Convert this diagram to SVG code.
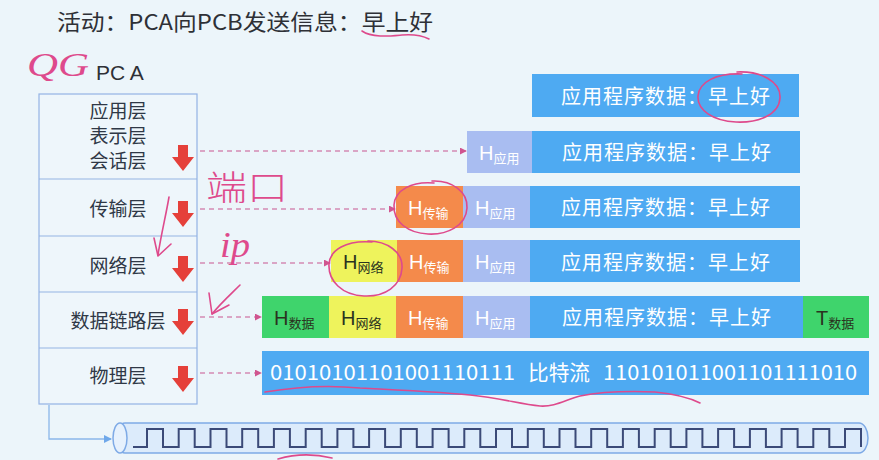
<svg xmlns="http://www.w3.org/2000/svg" width="879" height="460" viewBox="0 0 879 460">
  <defs>
    <style>
      .cjk{font-family:"Noto Sans CJK SC","Noto Sans",sans-serif}
      .title{font-size:22px;fill:#2e3036}
      .layer-box{fill:#eef6fb;stroke:#93b3e4;stroke-width:1.2}
      .layer-line{stroke:#93b3e4;stroke-width:1.2}
      .layer-text{font-size:19px;fill:#2f3846;text-anchor:middle}
      .down{fill:#e5403a}
      .dash{stroke:#d48bb4;stroke-width:1.3;stroke-dasharray:5 4;fill:none;marker-end:url(#tip)}
      .data{fill:#4eaaf2}
      .happ{fill:#a9bdf1}
      .htrn{fill:#f48a4b}
      .hnet{fill:#eef35c}
      .hlnk{fill:#3fd46c}
      .dtext{font-size:20px;fill:#fff;text-anchor:middle;letter-spacing:1px}
      .hl{font-family:"Liberation Sans",Arial,sans-serif;font-size:20px}
      .sub{font-family:"Noto Sans CJK SC",sans-serif;font-size:13px}
      .bits{font-family:"Noto Sans CJK SC","Noto Sans",sans-serif;font-size:21px;fill:#fff}
      .light{fill:#ffffff}
      .dark{fill:#2a3320}
      .ink{fill:none;stroke:#de4a8c;stroke-width:1.6;stroke-linecap:round;stroke-linejoin:round}
      .inktext{fill:#de4a8c}
    </style>
    <marker id="tip" viewBox="0 0 8 8" refX="7" refY="4" markerWidth="7" markerHeight="7" markerUnits="userSpaceOnUse" orient="auto">
      <path d="M0,0 L8,4 L0,8 z" fill="#d0558f"/>
    </marker>
    <marker id="tipBlue" viewBox="0 0 8 8" refX="7" refY="4" markerWidth="8" markerHeight="8" markerUnits="userSpaceOnUse" orient="auto">
      <path d="M0,0 L8,4 L0,8 z" fill="#6fa8ea"/>
    </marker>
  </defs>

  <!-- page background -->
  <rect width="879" height="460" fill="#ecf5fa"/>

  <!-- heading -->
  <g id="title">
    <text class="cjk title" x="57" y="30" textLength="376" lengthAdjust="spacingAndGlyphs">活动：PCA向PCB发送信息：早上好</text>
  </g>
  <g id="label-pca">
    <text x="96" y="80" font-family="Liberation Sans, Arial, sans-serif" font-size="21" fill="#2e3036">PC A</text>
  </g>

  <!-- protocol stack of the sending host -->
  <g id="stack">
    <rect class="layer-box" x="39" y="94" width="158" height="310"/>
    <g id="layer-app">
      <text class="cjk layer-text" x="118" y="118">应用层</text>
      <text class="cjk layer-text" x="118" y="143">表示层</text>
      <text class="cjk layer-text" x="118" y="168">会话层</text>
      <path class="down" d="M178,145 h10 v12 h6 l-11,14 l-11,-14 h6 z"/>
    </g>
    <line class="layer-line" x1="39" y1="179" x2="197" y2="179"/>
    <g id="layer-transport">
      <text class="cjk layer-text" x="118" y="216">传输层</text>
      <path class="down" d="M178,201 h10 v12 h6 l-11,14 l-11,-14 h6 z"/>
    </g>
    <line class="layer-line" x1="39" y1="236" x2="197" y2="236"/>
    <g id="layer-network">
      <text class="cjk layer-text" x="118" y="273">网络层</text>
      <path class="down" d="M178,256 h10 v12 h6 l-11,14 l-11,-14 h6 z"/>
    </g>
    <line class="layer-line" x1="39" y1="292" x2="197" y2="292"/>
    <g id="layer-link">
      <text class="cjk layer-text" x="118" y="328">数据链路层</text>
      <path class="down" d="M178,309 h10 v12 h6 l-11,14 l-11,-14 h6 z"/>
    </g>
    <line class="layer-line" x1="39" y1="348" x2="197" y2="348"/>
    <g id="layer-physical">
      <text class="cjk layer-text" x="118" y="383">物理层</text>
      <path class="down" d="M178,366 h10 v12 h6 l-11,14 l-11,-14 h6 z"/>
    </g>
  </g>

  <!-- encapsulated units, one row per layer -->
  <g id="pdu-app">
    <rect class="data" x="532" y="74" width="267" height="43"/>
    <text class="cjk dtext" x="666" y="104">应用程序数据：早上好</text>
  </g>
  <g id="pdu-session">
    <rect class="happ" x="467" y="131" width="65" height="42"/>
    <text class="hl light" x="479" y="160">H<tspan class="sub" dy="3">应用</tspan></text>
    <rect class="data" x="532" y="131" width="268" height="42"/>
    <text class="cjk dtext" x="667" y="160">应用程序数据：早上好</text>
  </g>
  <g id="pdu-segment">
    <rect class="htrn" x="396" y="186" width="67" height="42"/>
    <text class="hl light" x="408" y="215">H<tspan class="sub" dy="3">传输</tspan></text>
    <rect class="happ" x="463" y="186" width="67" height="42"/>
    <text class="hl light" x="475" y="215">H<tspan class="sub" dy="3">应用</tspan></text>
    <rect class="data" x="530" y="186" width="270" height="42"/>
    <text class="cjk dtext" x="666" y="215">应用程序数据：早上好</text>
  </g>
  <g id="pdu-packet">
    <rect class="hnet" x="331" y="240" width="66" height="42"/>
    <text class="hl dark" x="343" y="269">H<tspan class="sub" dy="3">网络</tspan></text>
    <rect class="htrn" x="397" y="240" width="66" height="42"/>
    <text class="hl light" x="409" y="269">H<tspan class="sub" dy="3">传输</tspan></text>
    <rect class="happ" x="463" y="240" width="67" height="42"/>
    <text class="hl light" x="475" y="269">H<tspan class="sub" dy="3">应用</tspan></text>
    <rect class="data" x="530" y="240" width="270" height="42"/>
    <text class="cjk dtext" x="666" y="270">应用程序数据：早上好</text>
  </g>
  <g id="pdu-frame">
    <rect class="hlnk" x="262" y="296" width="67" height="42"/>
    <text class="hl dark" x="274" y="325">H<tspan class="sub" dy="3">数据</tspan></text>
    <rect class="hnet" x="329" y="296" width="67" height="42"/>
    <text class="hl dark" x="341" y="325">H<tspan class="sub" dy="3">网络</tspan></text>
    <rect class="htrn" x="396" y="296" width="67" height="42"/>
    <text class="hl light" x="408" y="325">H<tspan class="sub" dy="3">传输</tspan></text>
    <rect class="happ" x="463" y="296" width="67" height="42"/>
    <text class="hl light" x="475" y="325">H<tspan class="sub" dy="3">应用</tspan></text>
    <rect class="data" x="530" y="296" width="273" height="42"/>
    <text class="cjk dtext" x="667" y="325">应用程序数据：早上好</text>
    <rect class="hlnk" x="803" y="296" width="66" height="42"/>
    <text class="hl dark" x="816" y="325">T<tspan class="sub" dy="3">数据</tspan></text>
  </g>
  <g id="pdu-bits">
    <rect class="data" x="262" y="351" width="607" height="44"/>
    <text class="bits" x="270" y="380" textLength="245" lengthAdjust="spacingAndGlyphs">01010101101001110111</text>
    <text class="bits" x="528" y="380" textLength="62" lengthAdjust="spacingAndGlyphs">比特流</text>
    <text class="bits" x="603" y="380" textLength="254" lengthAdjust="spacingAndGlyphs">110101011001101111010</text>
  </g>

  <!-- transmission medium -->
  <g id="cable">
    <rect x="116" y="423" width="752" height="30" rx="9" ry="15" fill="#dcebfb" stroke="#7eaae6" stroke-width="1.5"/>
    <ellipse cx="120" cy="438" rx="7" ry="15" fill="#e6f1fd" stroke="#7eaae6" stroke-width="1.5"/>
    <path fill="none" stroke="#3b4a78" stroke-width="2" d="M133,447 H147 V429 H163 V447 H178.7 V429 H194.7 V447 H210.5 V429 H226.5 V447 H242.2 V429 H258.2 V447 H273.9 V429 H289.9 V447 H305.7 V429 H321.7 V447 H337.4 V429 H353.4 V447 H369.1 V429 H385.1 V447 H400.8 V429 H416.8 V447 H432.6 V429 H448.6 V447 H464.3 V429 H480.3 V447 H496 V429 H512 V447 H527.8 V429 H543.8 V447 H559.5 V429 H575.5 V447 H591.2 V429 H607.2 V447 H622.9 V429 H638.9 V447 H654.7 V429 H670.7 V447 H686.4 V429 H702.4 V447 H718.1 V429 H734.1 V447 H749.9 V429 H765.9 V447 H781.6 V429 H797.6 V447 H813.3 V429 H829.3 V447 H845 V429 H861 V447"/>
  </g>

  <!-- connectors from each layer to its unit -->
  <g id="connectors">
    <line class="dash" x1="200" y1="151" x2="466" y2="151"/>
    <line class="dash" x1="200" y1="209" x2="395" y2="209"/>
    <line class="dash" x1="200" y1="263" x2="330" y2="263"/>
    <line class="dash" x1="200" y1="317" x2="261" y2="317"/>
    <line class="dash" x1="200" y1="373" x2="261" y2="373"/>
    <path d="M49,405 V439 H111" fill="none" stroke="#8ab6ea" stroke-width="1.3" marker-end="url(#tipBlue)"/>
  </g>

  <!-- pen annotations -->
  <g id="annotations">
    <path class="ink" d="M362,31 C372,38 390,36 402,35 C414,34 423,36 429,39"/>
    <text class="inktext" x="27" y="76" font-family="Liberation Serif, serif" font-style="italic" font-size="34" textLength="62" lengthAdjust="spacingAndGlyphs">QG</text>
    <path class="ink" d="M737,72 C760,71 781,81 780,98 C779,115 758,123 736,122 C713,121 697,110 698,96 C699,82 716,73 742,74"/>
    <path class="ink" d="M432,181 C452,180 468,192 467,208 C466,226 447,235 428,234 C408,233 393,222 394,205 C395,190 412,181 434,183"/>
    <path class="ink" d="M368,241 C387,241 403,252 402,268 C401,286 385,297 364,296 C342,295 328,281 329,264 C330,250 346,240 372,242"/>
    <text class="cjk inktext" x="206" y="200" font-size="34" font-weight="300" textLength="82" lengthAdjust="spacingAndGlyphs">端口</text>
    <text class="inktext" x="220" y="257" font-family="Liberation Serif, serif" font-style="italic" font-size="36" textLength="30" lengthAdjust="spacingAndGlyphs">ip</text>
    <path class="ink" d="M169,197 C166,215 161,235 158,255"/>
    <path class="ink" d="M154,238 L158,256 L171,244"/>
    <path class="ink" d="M240,285 C232,293 220,304 212,314"/>
    <path class="ink" d="M209,293 L212,314 L229,305"/>
    <path class="ink" d="M265,392 C300,386 330,385 360,388 C400,390 440,392 470,395 C500,398 520,404 540,406 C555,407 565,400 580,396 C600,392 630,391 655,392 C675,394 690,398 700,403"/>
    <path class="ink" d="M278,459 C295,454 315,454 332,458"/>
  </g>
</svg>
